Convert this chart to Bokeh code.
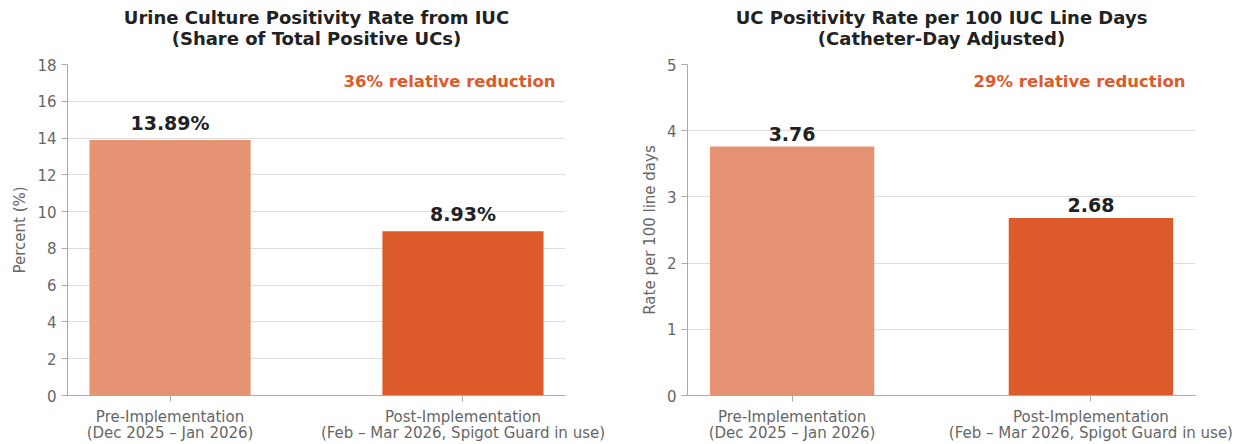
from bokeh.plotting import figure
from bokeh.layouts import row
from bokeh.models import Range1d, FixedTicker, Title, Label, ColumnDataSource, LinearAxis
from bokeh.core.properties import value
from bokeh.embed import file_html
from bokeh.resources import INLINE

# ---- data ----
period_names = ["Pre-Implementation", "Post-Implementation"]
period_spans = ["(Dec 2025 \u2013 Jan 2026)", "(Feb \u2013 Mar 2026, Spigot Guard in use)"]
share_pct = [13.89, 8.93]
rate_per_100 = [3.76, 2.68]
share_labels = ["13.89%", "8.93%"]
rate_labels = ["3.76", "2.68"]
bar_colors = ["#E69373", "#DD5A2B"]
left_title = ["Urine Culture Positivity Rate from IUC", "(Share of Total Positive UCs)"]
right_title = ["UC Positivity Rate per 100 IUC Line Days", "(Catheter-Day Adjusted)"]
left_note = "36% relative reduction"
right_note = "29% relative reduction"
left_yticks = [0, 2, 4, 6, 8, 10, 12, 14, 16, 18]
right_yticks = [0, 1, 2, 3, 4, 5]

FONT = "DejaVu Sans"
GREY = "#666666"
SPINE = "#aaaaaa"


def style_axis(ax):
    ax.axis_line_color = SPINE
    ax.major_tick_line_color = SPINE
    ax.major_tick_out = 6
    ax.major_tick_in = 0
    ax.minor_tick_line_color = None
    ax.major_label_text_font = FONT
    ax.major_label_text_font_size = "15px"
    ax.major_label_text_color = GREY


def make(values, labels, yticks, ylabel, title, note, width, height, bl, br, bt, bb):
    xs = list(range(len(period_names)))
    x0, x1 = -0.35, len(xs) - 1 + 0.35
    src = ColumnDataSource(dict(x=xs, top=values, color=bar_colors, label=labels))
    p = figure(width=width, height=height,
               x_range=Range1d(x0, x1),
               y_range=Range1d(yticks[0], yticks[-1]),
               output_backend="svg", toolbar_location=None,
               min_border_left=bl, min_border_right=br, min_border_top=bt, min_border_bottom=bb)
    p.outline_line_color = None
    p.background_fill_color = "white"
    p.border_fill_color = "white"

    p.vbar(x="x", top="top", bottom=0, width=0.55, color="color", source=src, line_color=None)
    p.text(x="x", y="top", text="label", source=src, text_align="center", text_baseline="bottom",
           y_offset=-6, text_font=value(FONT), text_font_size="19px", text_font_style="bold",
           text_color="#222222")

    # two-line centred title
    for attr, v in dict(text=title[0], align="center", text_font=FONT, text_font_size="18px",
                        text_font_style="bold", text_color="#222222", standoff=-27,
                        vertical_align="bottom").items():
        setattr(p.title, attr, v)
    t2 = Title(text=title[1], align="center", text_font=FONT, text_font_size="18px",
               text_font_style="bold", text_color="#222222", standoff=27, vertical_align="top")
    p.add_layout(t2, "above")

    note_lbl = Label(x=x1, y=yticks[-1], x_offset=-10, y_offset=-17,
                     text=note, text_align="right", text_baseline="middle",
                     text_font=FONT, text_font_size="16.5px", text_font_style="bold",
                     text_color="#DD5A2B")
    p.add_layout(note_lbl)

    # x axis: first line of each label
    p.xaxis.ticker = FixedTicker(ticks=xs)
    p.xaxis.major_label_overrides = {i: lab for i, lab in zip(xs, period_names)}
    style_axis(p.xaxis)
    p.xaxis.major_label_standoff = 6
    # second line of each label
    ax2 = LinearAxis(ticker=FixedTicker(ticks=xs),
                     major_label_overrides={i: lab for i, lab in zip(xs, period_spans)})
    style_axis(ax2)
    ax2.axis_line_color = None
    ax2.major_tick_line_color = None
    ax2.major_tick_out = 0
    ax2.major_label_standoff = -5
    p.add_layout(ax2, "below")

    p.yaxis.ticker = FixedTicker(ticks=yticks)
    style_axis(p.yaxis)
    p.yaxis.major_label_standoff = 5
    p.yaxis.axis_label = ylabel
    p.yaxis.axis_label_text_font = FONT
    p.yaxis.axis_label_text_font_size = "15px"
    p.yaxis.axis_label_text_font_style = "normal"
    p.yaxis.axis_label_text_color = GREY
    p.yaxis.axis_label_standoff = 5

    p.xgrid.grid_line_color = None
    p.ygrid.grid_line_color = "#dddddd"
    p.ygrid.grid_line_width = 1
    return p


p1 = make(share_pct, share_labels, left_yticks, "Percent (%)", left_title, left_note,
          width=620, height=444, bl=67, br=55, bt=64, bb=48)
p2 = make(rate_per_100, rate_labels, right_yticks, "Rate per 100 line days", right_title, right_note,
          width=627, height=444, bl=67, br=52, bt=64, bb=44)

layout = row(p1, p2)
open("out.html", "w").write(file_html(layout, INLINE))
